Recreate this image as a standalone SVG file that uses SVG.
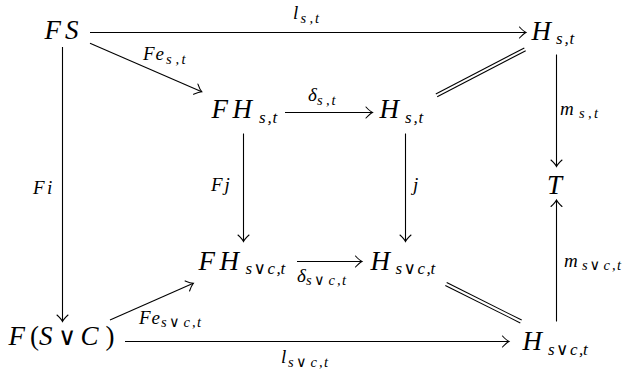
<svg xmlns="http://www.w3.org/2000/svg" width="626" height="372" viewBox="0 0 626 372">
<defs>
<marker id="arr" markerUnits="userSpaceOnUse" orient="auto" refX="0" refY="0" markerWidth="10" markerHeight="14" viewBox="-8 -7 10 14" overflow="visible">
<path d="M-6.5,-5.5 Q-2.5,-1.2 0,0 Q-2.5,1.2 -6.5,5.5" fill="none" stroke="#000" stroke-width="1.1" stroke-linecap="round"/>
</marker>
</defs>

<g id="connectors" stroke="#000" stroke-width="1.1" fill="none">
<line marker-end="url(#arr)" x1="90" y1="32.5" x2="526" y2="32.5"/>
<line marker-end="url(#arr)" x1="90" y1="43.3" x2="201.7" y2="91.7"/>
<line marker-end="url(#arr)" x1="62.5" y1="47" x2="62.5" y2="321.5"/>
<line marker-end="url(#arr)" x1="285" y1="112.5" x2="372.5" y2="112.5"/>
<line marker-end="url(#arr)" x1="243.5" y1="133.5" x2="243.5" y2="241.5"/>
<line marker-end="url(#arr)" x1="405.5" y1="133.5" x2="405.5" y2="241.5"/>
<line marker-end="url(#arr)" x1="556.5" y1="54.5" x2="556.5" y2="166.5"/>
<line marker-end="url(#arr)" x1="556.5" y1="321.5" x2="556.5" y2="200"/>
<line marker-end="url(#arr)" x1="297" y1="261.5" x2="362" y2="261.5"/>
<line marker-end="url(#arr)" x1="110" y1="320" x2="193.3" y2="283.3"/>
<line marker-end="url(#arr)" x1="125" y1="341.5" x2="509" y2="341.5"/>
<line x1="435.8" y1="93.9" x2="524.3" y2="47.9"/>
<line x1="437.2" y1="96.7" x2="525.7" y2="50.7"/>
<line x1="446.7" y1="282.6" x2="521.7" y2="320.1"/>
<line x1="445.3" y1="285.4" x2="520.3" y2="322.9"/>
</g>

<g id="labels">
<text font-family="Liberation Serif, serif" font-style="italic" font-size="19" x="293" y="19">l</text>
<text font-family="Liberation Serif, serif" font-style="italic" font-size="14.5" y="22.5"><tspan x="300.5">s</tspan><tspan x="309.5">,</tspan><tspan x="315">t</tspan></text>
<text font-family="Liberation Serif, serif" font-style="italic" font-size="19" y="60"><tspan x="143">F</tspan><tspan x="155.5">e</tspan></text>
<text font-family="Liberation Serif, serif" font-style="italic" font-size="14.5" y="63.5"><tspan x="166">s</tspan><tspan x="175.5">,</tspan><tspan x="181.5">t</tspan></text>
<text font-family="Liberation Serif, serif" font-style="italic" font-size="19" x="308" y="101">δ</text>
<text font-family="Liberation Serif, serif" font-style="italic" font-size="14.5" y="104.5"><tspan x="317">s</tspan><tspan x="326">,</tspan><tspan x="331.5">t</tspan></text>
<text font-family="Liberation Serif, serif" font-style="italic" font-size="19" x="560" y="114.5">m</text>
<text font-family="Liberation Serif, serif" font-style="italic" font-size="14.5" y="118"><tspan x="579">s</tspan><tspan x="588">,</tspan><tspan x="594">t</tspan></text>
<text font-family="Liberation Serif, serif" font-style="italic" font-size="19" y="194"><tspan x="33">F</tspan><tspan x="47">i</tspan></text>
<text font-family="Liberation Serif, serif" font-style="italic" font-size="19" y="191"><tspan x="211">F</tspan><tspan x="224.5">j</tspan></text>
<text font-family="Liberation Serif, serif" font-style="italic" font-size="19" x="413" y="191">j</text>
<text font-family="Liberation Serif, serif" font-style="italic" font-size="19" x="564" y="266.5">m</text>
<text font-family="Liberation Serif, serif" font-style="italic" font-size="14.5" y="270"><tspan x="582">s</tspan><tspan font-family="DejaVu Sans, sans-serif" font-style="normal" x="589.5">∨</tspan><tspan x="603.5">c</tspan><tspan x="612">,</tspan><tspan x="617">t</tspan></text>
<text font-family="Liberation Serif, serif" font-style="italic" font-size="19" x="297" y="281.5">δ</text>
<text font-family="Liberation Serif, serif" font-style="italic" font-size="14.5" y="285"><tspan x="306">s</tspan><tspan font-family="DejaVu Sans, sans-serif" font-style="normal" x="314">∨</tspan><tspan x="328.5">c</tspan><tspan x="337">,</tspan><tspan x="342">t</tspan></text>
<text font-family="Liberation Serif, serif" font-style="italic" font-size="19" y="323.5"><tspan x="139">F</tspan><tspan x="151.5">e</tspan></text>
<text font-family="Liberation Serif, serif" font-style="italic" font-size="14.5" y="327"><tspan x="161">s</tspan><tspan font-family="DejaVu Sans, sans-serif" font-style="normal" x="169">∨</tspan><tspan x="183.5">c</tspan><tspan x="192">,</tspan><tspan x="197">t</tspan></text>
<text font-family="Liberation Serif, serif" font-style="italic" font-size="19" x="281" y="363">l</text>
<text font-family="Liberation Serif, serif" font-style="italic" font-size="14.5" y="366.5"><tspan x="288">s</tspan><tspan font-family="DejaVu Sans, sans-serif" font-style="normal" x="296">∨</tspan><tspan x="310.5">c</tspan><tspan x="319">,</tspan><tspan x="324">t</tspan></text>
</g>

<g id="node-FS">
<text font-family="Liberation Serif, serif" font-style="italic" font-size="27" y="39"><tspan x="44.5">F</tspan><tspan x="65">S</tspan></text>
</g>
<g id="node-Hst-top">
<text font-family="Liberation Serif, serif" font-style="italic" font-size="27" x="531.5" y="39.5">H</text>
<text font-family="Liberation Serif, serif" font-style="italic" font-size="17" y="44"><tspan x="556">s</tspan><tspan x="564.5">,</tspan><tspan x="569.5">t</tspan></text>
</g>
<g id="node-FHst">
<text font-family="Liberation Serif, serif" font-style="italic" font-size="27" y="118"><tspan x="211.5">F</tspan><tspan x="232.5">H</tspan></text>
<text font-family="Liberation Serif, serif" font-style="italic" font-size="17" y="122.5"><tspan x="259">s</tspan><tspan x="267.5">,</tspan><tspan x="272.5">t</tspan></text>
</g>
<g id="node-Hst-mid">
<text font-family="Liberation Serif, serif" font-style="italic" font-size="27" x="379.5" y="118">H</text>
<text font-family="Liberation Serif, serif" font-style="italic" font-size="17" y="122.5"><tspan x="405">s</tspan><tspan x="413.5">,</tspan><tspan x="418.5">t</tspan></text>
</g>
<g id="node-T">
<text font-family="Liberation Serif, serif" font-style="italic" font-size="27" x="547" y="194">T</text>
</g>
<g id="node-FHsvct">
<text font-family="Liberation Serif, serif" font-style="italic" font-size="27" y="269.5"><tspan x="198.5">F</tspan><tspan x="219.5">H</tspan></text>
<text font-family="Liberation Serif, serif" font-style="italic" font-size="17" y="274"><tspan x="245.5">s</tspan><tspan font-family="DejaVu Sans, sans-serif" font-style="normal" x="253.5">∨</tspan><tspan x="267.5">c</tspan><tspan x="276.5">,</tspan><tspan x="280.5">t</tspan></text>
</g>
<g id="node-Hsvct-mid">
<text font-family="Liberation Serif, serif" font-style="italic" font-size="27" x="370.5" y="269.5">H</text>
<text font-family="Liberation Serif, serif" font-style="italic" font-size="17" y="274"><tspan x="395.5">s</tspan><tspan font-family="DejaVu Sans, sans-serif" font-style="normal" x="403.5">∨</tspan><tspan x="417.5">c</tspan><tspan x="426.5">,</tspan><tspan x="430.5">t</tspan></text>
</g>
<g id="node-Hsvct-bot">
<text font-family="Liberation Serif, serif" font-style="italic" font-size="27" x="522.5" y="350">H</text>
<text font-family="Liberation Serif, serif" font-style="italic" font-size="17" y="354.5"><tspan x="548">s</tspan><tspan font-family="DejaVu Sans, sans-serif" font-style="normal" x="556">∨</tspan><tspan x="570">c</tspan><tspan x="579">,</tspan><tspan x="583">t</tspan></text>
</g>
<g id="node-FSvC">
<text font-family="Liberation Serif, serif" font-style="italic" font-size="27" y="345"><tspan x="8.5">F</tspan><tspan font-style="normal" x="30">(</tspan><tspan x="39">S</tspan><tspan font-family="DejaVu Sans, sans-serif" font-style="normal" font-size="25" x="58">∨</tspan><tspan x="80.5">C</tspan><tspan font-style="normal" x="105.5">)</tspan></text>
</g>
</svg>
